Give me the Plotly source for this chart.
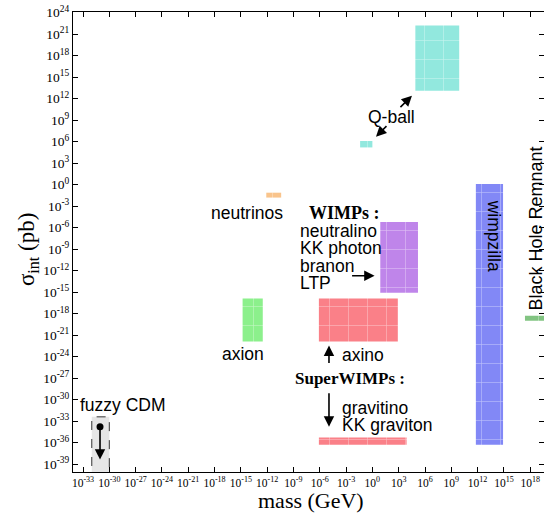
import plotly.graph_objects as go

# ---- data (log10 of mass in GeV, log10 of sigma in pb) ----
names = ["Q-ball", "Q-ball small", "neutrinos", "WIMPs", "axino", "gravitino",
         "axion", "wimpzilla", "Black Hole Remnant", "fuzzy CDM"]
mass_lo = [4.9, -1.4, -12.1, 0.9, -6.1, -6.1, -14.8, 11.8, 17.4, -32.0]
mass_hi = [9.9, 0.0, -10.4, 5.2, 2.9, 3.9, -12.5, 14.9, 21.0, -30.0]
sig_lo = [13.1, 5.2, -1.8, -15.1, -21.9, -36.3, -21.9, -36.3, -19.0, -42.0]
sig_hi = [22.2, 6.1, -1.1, -5.2, -15.9, -35.3, -15.9, 0.1, -18.3, -32.4]
colors = ["#92e8de", "#92e8de", "#f9c48c", "#bf85ea", "#fa8088", "#fa8088",
          "#8cf08c", "#8288f6", "#82c482", "#e6e6e6"]

fuzzy_point_mass = [-31.06]
fuzzy_point_sig = [-33.77]

tick_exps = list(range(-33, 19, 3))
ytick_exps = list(range(-39, 25, 3))

fig = go.Figure()

for i, n in enumerate(names):
    x0, x1 = 10.0 ** mass_lo[i], 10.0 ** mass_hi[i]
    y0, y1 = 10.0 ** sig_lo[i], 10.0 ** sig_hi[i]
    if n == "fuzzy CDM":
        fig.add_trace(go.Scatter(
            x=[x0, x1, x1, x0, x0], y=[y0, y0, y1, y1, y0],
            mode="lines", fill="toself", fillcolor=colors[i],
            line=dict(color="#333333", width=1, dash="dash"),
            hoverinfo="text", text=n, showlegend=False))
    else:
        fig.add_trace(go.Scatter(
            x=[x0, x1, x1, x0, x0], y=[y0, y0, y1, y1, y0],
            mode="lines", fill="toself",
            fillpattern=dict(shape="+", fgcolor="white", bgcolor=colors[i],
                             size=19, solidity=0.06),
            line=dict(width=0, color=colors[i]),
            hoverinfo="text", text=n, showlegend=False))

fig.add_trace(go.Scatter(
    x=[10.0 ** v for v in fuzzy_point_mass], y=[10.0 ** v for v in fuzzy_point_sig],
    mode="markers", marker=dict(color="black", size=7), showlegend=False,
    hoverinfo="skip"))

sans = "Liberation Sans, Arial, sans-serif"
serif = "Liberation Serif, Times New Roman, serif"

ann = []


def txt(x, y, s, size=17.5, font=sans, xanchor="center", angle=0, bold=False):
    ann.append(dict(x=x, y=y, xref="x", yref="y", text=("<b>%s</b>" % s) if bold else s,
                    showarrow=False, xanchor=xanchor, yanchor="middle",
                    textangle=angle, font=dict(family=font, size=size, color="black")))


def arrow(x, y, ax, ay):
    ann.append(dict(x=x, y=y, xref="x", yref="y", ax=ax, ay=ay, axref="pixel",
                    ayref="pixel", text="", showarrow=True, arrowhead=2,
                    arrowsize=1.3, arrowwidth=1.6, arrowcolor="black"))


txt(-28.44, -30.7, "fuzzy CDM")
txt(-14.3, -3.9, "neutrinos")
txt(-3.13, -3.9, "WIMPs :", size=18, font=serif, bold=True)
txt(-8.48, -6.42, "neutralino", xanchor="left")
txt(-8.48, -8.79, "KK photon", xanchor="left")
txt(-8.48, -11.3, "branon", xanchor="left")
txt(-8.48, -13.67, "LTP", xanchor="left")
arrow(0.25, -12.7, -24, 0)
txt(-14.76, -23.58, "axion")
txt(-3.70, -23.72, "axino", xanchor="left")
arrow(-4.95, -22.46, 0, 19)
txt(-2.56, -27.07, "SuperWIMPs :", size=17, font=serif, bold=True)
arrow(-4.95, -33.77, 0, -35)
txt(-3.70, -31.11, "gravitino", xanchor="left")
txt(-3.70, -33.49, "KK graviton", xanchor="left")
txt(2.23, 9.49, "Q-ball")
arrow(4.51, 12.42, -13, 13)
arrow(0.41, 6.70, 12, -12)
txt(13.86, -7.11, "wimpzilla", angle=90)
txt(18.65, -6.14, "Black Hole Remnant", angle=-90, size=18)
arrow(-31.06, -38.37, 0, -32)

ann.append(dict(x=0.505, y=-0.061, xref="paper", yref="paper", showarrow=False,
                text="mass (GeV)", yanchor="middle",
                font=dict(family=serif, size=22, color="black")))
ann.append(dict(x=-0.095, y=0.483, xref="paper", yref="paper", showarrow=False,
                text="σ<sub>int</sub> (pb)", textangle=-90, xanchor="center",
                font=dict(family=serif, size=23, color="black")))

axis_common = dict(type="log", showgrid=False, zeroline=False, showline=True,
                   linecolor="black", linewidth=1, mirror="allticks",
                   ticks="inside", ticklen=5, tickcolor="black", automargin=False,
                   tickangle=0, ticklabeloverflow="allow")

fig.update_layout(
    width=544, height=525,
    margin=dict(l=73, r=0, t=12, b=53, autoexpand=False),
    paper_bgcolor="white", plot_bgcolor="white",
    annotations=ann,
    xaxis=dict(range=[-34.14, 19.57],
               tickvals=[10.0 ** e for e in tick_exps],
               ticktext=["10<sup>%d</sup>" % e for e in tick_exps],
               tickfont=dict(family=serif, size=11.5, color="black"), **axis_common),
    yaxis=dict(range=[-40.1, 24.1],
               tickvals=[10.0 ** e for e in ytick_exps],
               ticktext=["10<sup>%d</sup>" % e for e in ytick_exps],
               tickfont=dict(family=serif, size=13.5, color="black"), **axis_common),
)

fig.write_html("out.html", config={"displayModeBar": False},
               post_script="document.body.style.margin='0px';")
